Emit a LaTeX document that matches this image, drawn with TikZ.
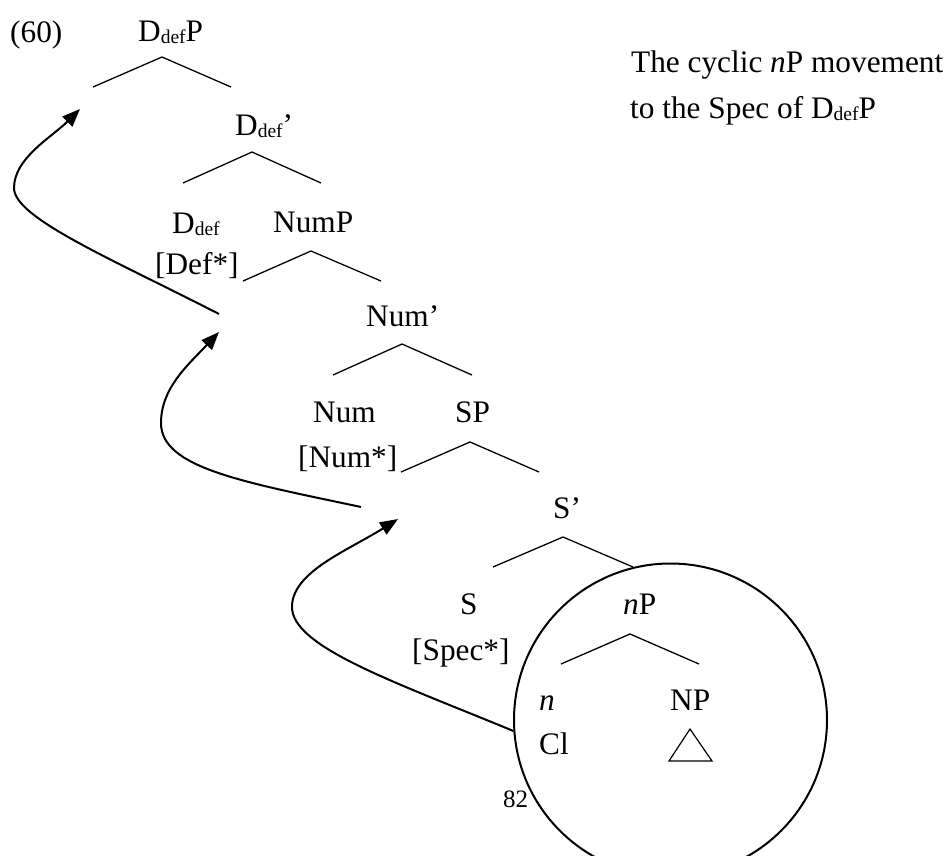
\documentclass[tikz,border=0pt]{standalone}
\usepackage{fontspec}
\setmainfont{Liberation Serif}
\usetikzlibrary{arrows.meta}
% lowered, smaller "def" index on D
\newcommand\dsub[1]{\raisebox{-2pt}{\fontsize{19.5}{20}\selectfont #1}}

\begin{document}
\begin{tikzpicture}[x=1pt,y=-1pt,
  lbl/.style={anchor=base west,inner sep=0pt,font=\fontsize{31.3}{36}\selectfont},
  pagenum/.style={anchor=base west,inner sep=0pt,font=\fontsize{25}{30}\selectfont},
  branch/.style={line width=1.3pt},
  move/.style={line width=2pt,-{Triangle[length=18pt,width=14pt]}},
  ring/.style={draw,circle,line width=2pt,inner sep=0pt,minimum size=313pt}]
\clip (0,0) rectangle (951,855);
\fill[white] (0,0) rectangle (951,855);

% ---- labels ----
\node[lbl] (ex)    at (10,42)  {(60)};
\node[lbl] (dp)    at (138,41) {D\dsub{def}P};
\node[lbl] (dbar)  at (235,135) {D\dsub{def}’};
\node[lbl] (dhead) at (172,233) {D\dsub{def}};
\node[lbl] (numP)  at (273,232) {NumP};
\node[lbl] (deff)  at (155,274) {[Def*]};
\node[lbl] (numbar) at (366,326) {Num’};
\node[lbl] (num)   at (313,422) {Num};
\node[lbl] (sp)    at (455,422) {SP};
\node[lbl] (numf)  at (298,467) {[Num*]};
\node[lbl] (sbar)  at (553,518) {S’};
\node[lbl] (s)     at (460,614) {S};
\node[lbl] (specf) at (412,660) {[Spec*]};
\node[lbl] (nP)    at (623,614) {\textit{n}P};
\node[lbl] (n)     at (539,710) {\textit{n}};
\node[lbl] (cl)    at (539,754) {Cl};
\node[lbl] (NP)    at (670,710) {NP};
\node[pagenum] (pg) at (503,807) {82};
\node[lbl] (note1) at (631,72)  {The cyclic \textit{n}P movement};
\node[lbl] (note2) at (630,118) {to the Spec of D\dsub{def}P};

% ---- branches ----
\coordinate (b1t) at (162,57);  \coordinate (b1l) at (93,87);   \coordinate (b1r) at (231,87);
\coordinate (b2t) at (252,152); \coordinate (b2l) at (183,183); \coordinate (b2r) at (321,183);
\coordinate (b3t) at (311,251); \coordinate (b3l) at (243,281); \coordinate (b3r) at (381,281);
\coordinate (b4t) at (402,344); \coordinate (b4l) at (333,375); \coordinate (b4r) at (472,375);
\coordinate (b5t) at (470,442); \coordinate (b5l) at (401,472); \coordinate (b5r) at (539,472);
\coordinate (b6t) at (563,537); \coordinate (b6l) at (493,567); \coordinate (b6r) at (633,567);
\coordinate (b7t) at (630,634); \coordinate (b7l) at (561,664); \coordinate (b7r) at (699,664);
\foreach \b in {b1,b2,b3,b4,b5,b6,b7}
  \draw[branch] (\b l) -- (\b t) -- (\b r);

% NP triangle
\coordinate (tri1) at (690,729); \coordinate (tri2) at (669,761); \coordinate (tri3) at (712,761);
\draw[line width=1.2pt] (tri1) -- (tri2) -- (tri3) -- cycle;

% circled nP
\node[ring] (ring) at (670.5,720) {};

% ---- movement arrows ----
\coordinate (a1s) at (219,314); \coordinate (a1m) at (14,188);  \coordinate (a1e) at (80,109);
\coordinate (a2s) at (361,507); \coordinate (a2m) at (161,423); \coordinate (a2e) at (219,332);
\coordinate (a3m) at (292,607); \coordinate (a3e) at (398,519);
\draw[move] (a1s) .. controls (112,259) and (14,218) .. (a1m)
                  .. controls (14,158) and (52,137) .. (a1e);
\draw[move] (a2s) .. controls (243.6,482) and (161,468) .. (a2m)
                  .. controls (161,388) and (188,365) .. (a2e);
\draw[move] (ring.184.8) .. controls (395,682) and (292,647) .. (a3m)
                  .. controls (292,572) and (347,551) .. (a3e);
\end{tikzpicture}
\end{document}
